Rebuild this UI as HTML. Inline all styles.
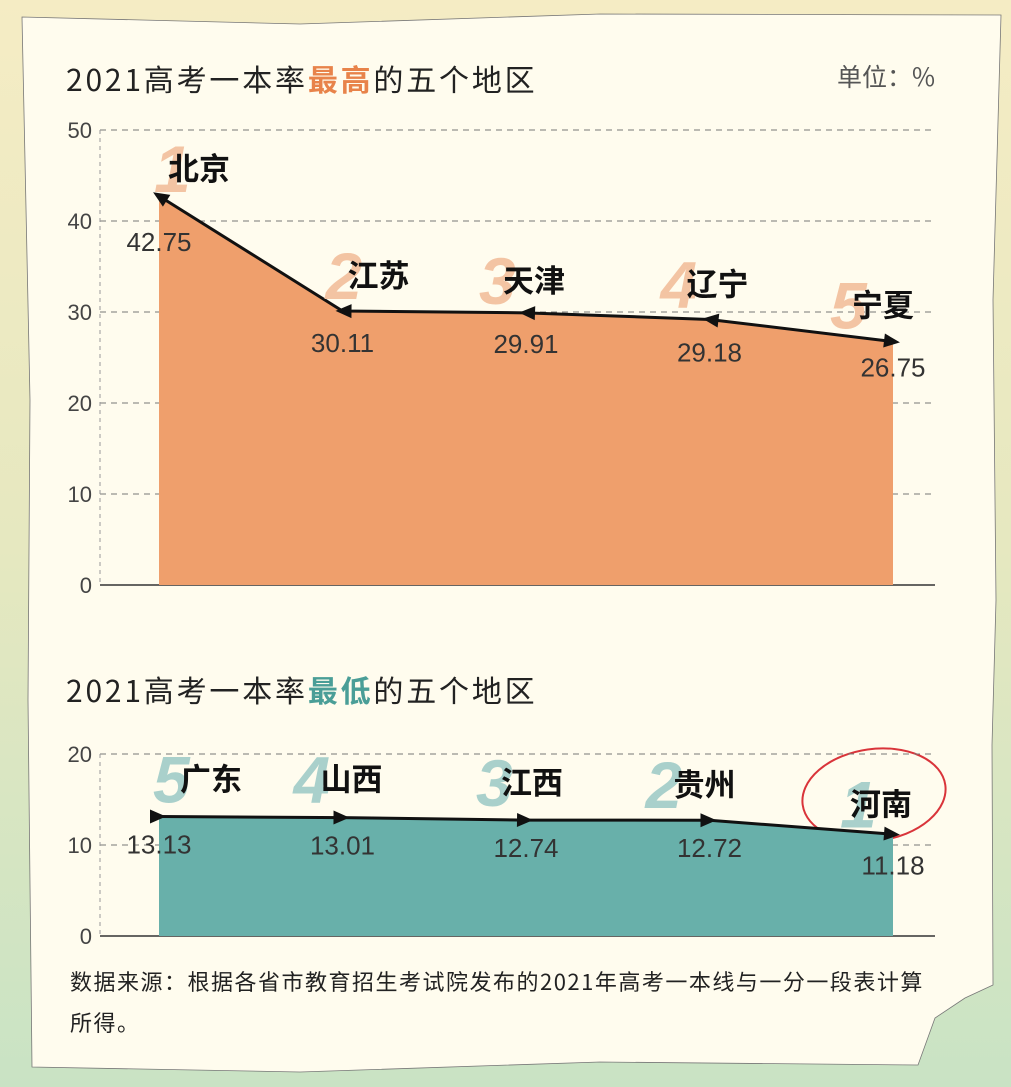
<!DOCTYPE html>
<html><head><meta charset="utf-8"><style>
html,body{margin:0;padding:0}
body{width:1011px;height:1087px;overflow:hidden;background:linear-gradient(180deg,#f5ecc4 0%,#e6e8c0 50%,#c9e3c4 100%);font-family:"Liberation Sans","Noto Sans CJK SC",sans-serif}
svg{position:absolute;left:0;top:0}
.cjk{font-family:"Noto Sans CJK SC","Liberation Sans",sans-serif}
</style></head><body>
<svg id="c" width="1011" height="1087">
<polygon points="22,17 300,24 600,14 1001,15 993,300 996,600 992,745 993,985 965,998 935,1018 918,1065 600,1062 300,1072 32,1067 28,700 30,400" fill="#fffcee" stroke="#777" stroke-width="0.8"/>
<text class="cjk" x="66" y="91" font-size="30" letter-spacing="2.8" fill="#222">2021高考一本率<tspan font-weight="bold" fill="#e8834a">最高</tspan>的五个地区</text>
<text class="cjk" x="935" y="86" font-size="25" fill="#555" text-anchor="end">单位：%</text>
<text class="cjk" x="66" y="702" font-size="30" letter-spacing="2.8" fill="#222">2021高考一本率<tspan font-weight="bold" fill="#4a9e97">最低</tspan>的五个地区</text>
<text class="cjk" x="70" y="990" font-size="22" letter-spacing="1.5" fill="#222">数据来源：根据各省市教育招生考试院发布的2021年高考一本线与一分一段表计算</text>
<text class="cjk" x="70" y="1031" font-size="22" letter-spacing="1.5" fill="#222">所得。</text>
<ellipse cx="874" cy="795" rx="72" ry="46" fill="none" stroke="#d9343a" stroke-width="2" transform="rotate(-8 874 795)"/>
</svg>
<script>
const topCategories=["北京","江苏","天津","辽宁","宁夏"];
const topValues=[42.75,30.11,29.91,29.18,26.75];
const topTicks=[0,10,20,30,40,50];
const botCategories=["广东","山西","江西","贵州","河南"];
const botValues=[13.13,13.01,12.74,12.72,11.18];
const botTicks=[0,10,20];
const topRanks=["1","2","3","4","5"];
const botRanks=["5","4","3","2","1"];
const NS="http://www.w3.org/2000/svg";
const svg=document.getElementById('c');
function mk(t,a,p){const e=document.createElementNS(NS,t);for(const k in a)e.setAttribute(k,a[k]);(p||svg).appendChild(e);return e;}
const xScale=i=>159+i*183.5;
function draw(cfg){
 const y=v=>cfg.y0-v*9.1;
 const g=mk('g',{});
 
 
 cfg.ticks.forEach(t=>{
  const l=mk('line',{x1:100,x2:935,y1:y(t),y2:y(t),stroke:t===0?'#333':'#777','stroke-width':t===0?1.5:1,'stroke-dasharray':t===0?'none':'6,5'},g);
  
  
  const tx=mk('text',{x:92,y:y(t)+8,'font-size':22,fill:'#444','text-anchor':'end'},g);tx.textContent=t;
  
  
 });
 const vl=mk('line',{x1:100,x2:100,y1:y(cfg.ticks[cfg.ticks.length-1]),y2:y(0),stroke:'#999','stroke-dasharray':'4,4'},g);
 
 
 let d='M'+xScale(0)+','+y(0);
 cfg.vals.forEach((v,i)=>d+=' L'+xScale(i)+','+y(v));
 d+=' L'+xScale(cfg.vals.length-1)+','+y(0)+' Z';
 const a=mk('path',{d:d,fill:cfg.fill},g);
 
 
 let ld='';cfg.vals.forEach((v,i)=>ld+=(i?' L':'M')+xScale(i)+','+y(v));
 const ln=mk('path',{d:ld,fill:'none',stroke:'#111','stroke-width':3},g);
 
 
 cfg.vals.forEach((v,i)=>{
  const px=xScale(i),py=y(v);
  let ang;
  if(cfg.dir<0){const j=i===cfg.vals.length-1?i:i+1;ang=i===cfg.vals.length-1?Math.atan2(y(cfg.vals[i-1])-py,xScale(i-1)-px)+Math.PI:Math.atan2(py-y(cfg.vals[j]),px-xScale(j));}
  else{ang=i===0?0:Math.atan2(py-y(cfg.vals[i-1]),px-xScale(i-1));}
  const hd=mk('polygon',{points:'7,0 -9,-7 -9,7',fill:'#111',transform:`translate(${px},${py}) rotate(${ang*180/Math.PI})`},g);
  
  
  const nx=px+cfg.ndx[i],ny=py+cfg.ndy[i];
  const rk=mk('text',{x:nx+cfg.rdx[i],y:ny+12,'font-size':66,'font-weight':'bold','font-style':'italic',fill:cfg.rk},g);rk.textContent=cfg.ranks[i];
  
  
  const nm=mk('text',{x:nx,y:ny,'font-size':31,'font-weight':'bold',fill:'#111','class':'cjk'},g);nm.textContent=cfg.cats[i];
  
  
  const vt=mk('text',{x:px,y:py+cfg.vdy[i],'font-size':26,fill:'#333','text-anchor':'middle'},g);vt.textContent=v.toFixed(2);
  
  
 });
}
draw({name:'top-chart',y0:585,ticks:topTicks,vals:topValues,cats:topCategories,ranks:topRanks,fill:'#ef9f6c',rk:'#f3c4a3',dir:-1,
 ndx:[9,5,-23,-23,-41],ndy:[-16,-24,-21,-24,-25],rdx:[-14,-22,-24,-26,-22],vdy:[55,41,40,42,35]});
draw({name:'bottom-chart',y0:936,ticks:botTicks,vals:botValues,cats:botCategories,ranks:botRanks,fill:'#68b0aa',rk:'#a9d0cb',dir:1,
 ndx:[21,-22,-25,-36,-43],ndy:[-26,-27,-26,-24,-19],rdx:[-27,-27,-25,-28,-10],vdy:[37,37,37,37,40]});
</script>
</body></html>
